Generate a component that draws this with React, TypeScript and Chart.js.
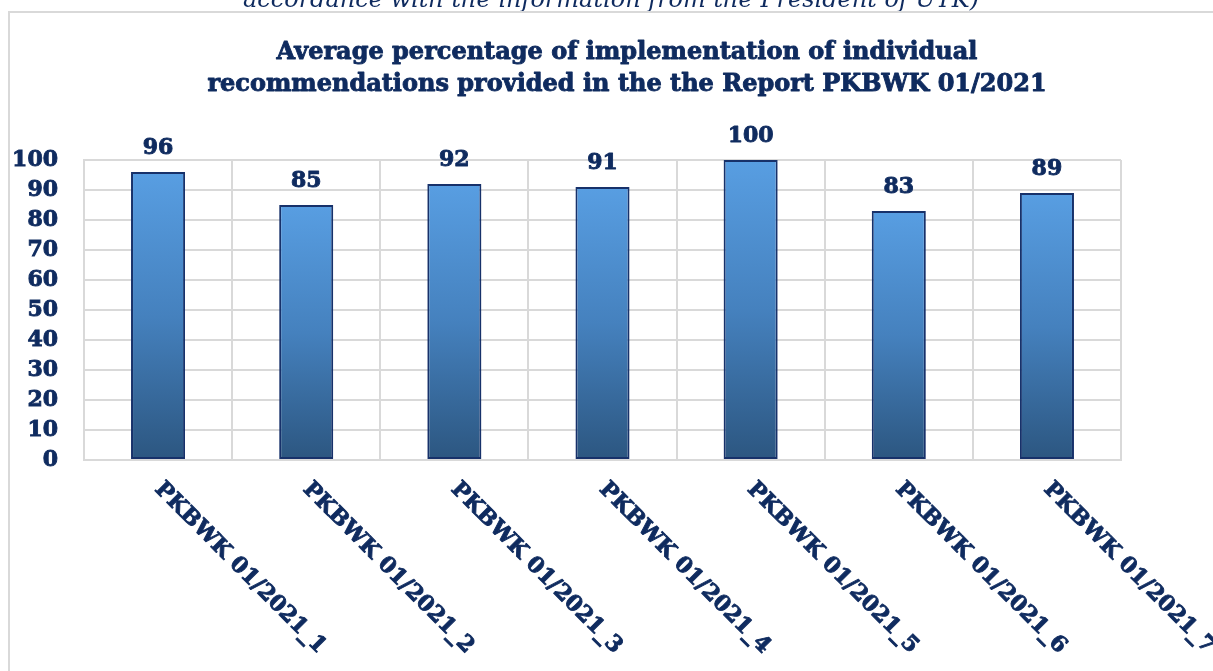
import { useEffect, useRef } from "react";
import { Chart, registerables } from "chart.js";

Chart.register(...registerables);

// Recommendations of the report and their average implementation (%)
const categories = [
  "PKBWK 01/2021_1",
  "PKBWK 01/2021_2",
  "PKBWK 01/2021_3",
  "PKBWK 01/2021_4",
  "PKBWK 01/2021_5",
  "PKBWK 01/2021_6",
  "PKBWK 01/2021_7",
];
const averageImplementation = [96, 85, 92, 91, 100, 83, 89];

const yMin = 0;
const yMax = 100;
const yStep = 10;

const titleLines = [
  "Average percentage of implementation of individual",
  "recommendations provided in the the Report PKBWK 01/2021",
];
const captionText = "accordance with the information from the President of UTK)";

const NAVY = "#0f2b5f";
const GRID = "#d9d9d9";
const SERIF = '"DejaVu Serif", serif';

const W = 1213;
const H = 671;

// heavier bold text: fill plus a thin stroke in the same colour
function boldText(ctx: CanvasRenderingContext2D, text: string, x: number, y: number, stroke = 0.9) {
  ctx.fillText(text, x, y);
  ctx.lineWidth = stroke;
  ctx.strokeStyle = ctx.fillStyle as string;
  ctx.lineJoin = "round";
  ctx.strokeText(text, x, y);
}

const framePlugin = {
  id: "frame",
  beforeDraw(chart: any) {
    const ctx = chart.ctx as CanvasRenderingContext2D;
    ctx.save();
    ctx.fillStyle = "#ffffff";
    ctx.fillRect(0, 0, chart.width, chart.height);

    // caption running above the chart box
    ctx.fillStyle = NAVY;
    ctx.font = `italic 24px ${SERIF}`;
    ctx.textAlign = "center";
    ctx.textBaseline = "alphabetic";
    ctx.fillText(captionText, 611, 7);

    // chart box outline
    ctx.strokeStyle = GRID;
    ctx.lineWidth = 2;
    ctx.beginPath();
    ctx.moveTo(9, chart.height + 5);
    ctx.lineTo(9, 12);
    ctx.lineTo(chart.width + 5, 12);
    ctx.stroke();

    // title
    ctx.fillStyle = NAVY;
    ctx.font = `bold 24px ${SERIF}`;
    ctx.textAlign = "center";
    boldText(ctx, titleLines[0], 627, 59);
    boldText(ctx, titleLines[1], 627, 91);
    ctx.restore();
  },
  afterDatasetsDraw(chart: any) {
    const ctx = chart.ctx as CanvasRenderingContext2D;
    const meta = chart.getDatasetMeta(0);
    const xScale = chart.scales.x;
    ctx.save();
    ctx.fillStyle = NAVY;

    // value labels above the bars
    ctx.font = `bold 22px ${SERIF}`;
    ctx.textAlign = "center";
    ctx.textBaseline = "alphabetic";
    meta.data.forEach((bar: any, i: number) => {
      boldText(ctx, String(averageImplementation[i]), bar.x, bar.y - 18);
    });

    // diagonal category labels running down-right from each tick
    ctx.font = `bold 22px ${SERIF}`;
    ctx.textAlign = "left";
    ctx.textBaseline = "middle";
    categories.forEach((label, i) => {
      const x = xScale.getPixelForValue(i);
      const y = chart.chartArea.bottom + 26;
      ctx.save();
      ctx.translate(x, y);
      ctx.rotate(Math.PI / 4);
      boldText(ctx, label, 0, 0);
      ctx.restore();
    });
    ctx.restore();
  },
};

function barGradient(context: any) {
  const chart = context.chart;
  if (context.type !== "data" || !chart.chartArea) return "#4a86c4";
  const y = chart.scales.y;
  const top = y.getPixelForValue(context.parsed.y);
  const bottom = y.getPixelForValue(0);
  const g = chart.ctx.createLinearGradient(0, top, 0, bottom);
  g.addColorStop(0, "#589ee2");
  g.addColorStop(0.5, "#4581be");
  g.addColorStop(1, "#2c5680");
  return g;
}

export default function App() {
  const canvasRef = useRef<HTMLCanvasElement | null>(null);

  useEffect(() => {
    if (!canvasRef.current) return;
    const chart = new Chart(canvasRef.current, {
      type: "bar",
      data: {
        labels: categories,
        datasets: [
          {
            data: averageImplementation,
            backgroundColor: barGradient,
            borderColor: "#17316a",
            borderWidth: 2,
            borderSkipped: false,
            categoryPercentage: 1,
            barPercentage: 0.365,
          },
        ],
      },
      options: {
        animation: false,
        responsive: false,
        devicePixelRatio: 1,
        layout: { padding: { top: 160, right: 92, left: 0, bottom: 0 } },
        plugins: {
          legend: { display: false },
          tooltip: { enabled: false },
          title: { display: false },
        },
        scales: {
          x: {
            offset: true,
            grid: { color: GRID, lineWidth: 2, offset: true, drawTicks: false },
            border: { color: GRID, width: 2 },
            ticks: { display: false },
            afterFit(scale: any) {
              scale.height = H - 460;
            },
          },
          y: {
            min: yMin,
            max: yMax,
            grid: { color: GRID, lineWidth: 2, drawTicks: false },
            border: { color: GRID, width: 2 },
            ticks: {
              stepSize: yStep,
              padding: 26,
              color: NAVY,
              textStrokeColor: NAVY,
              textStrokeWidth: 0.9,
              font: { family: SERIF, size: 22, weight: "bold" },
            },
            afterFit(scale: any) {
              scale.width = 84;
            },
          },
        },
      },
      plugins: [framePlugin],
    });
    return () => chart.destroy();
  }, []);

  return (
    <div style={{ position: "absolute", left: 0, top: 0, width: W, height: H, background: "#fff" }}>
      <canvas ref={canvasRef} width={W} height={H} style={{ display: "block" }} />
    </div>
  );
}
